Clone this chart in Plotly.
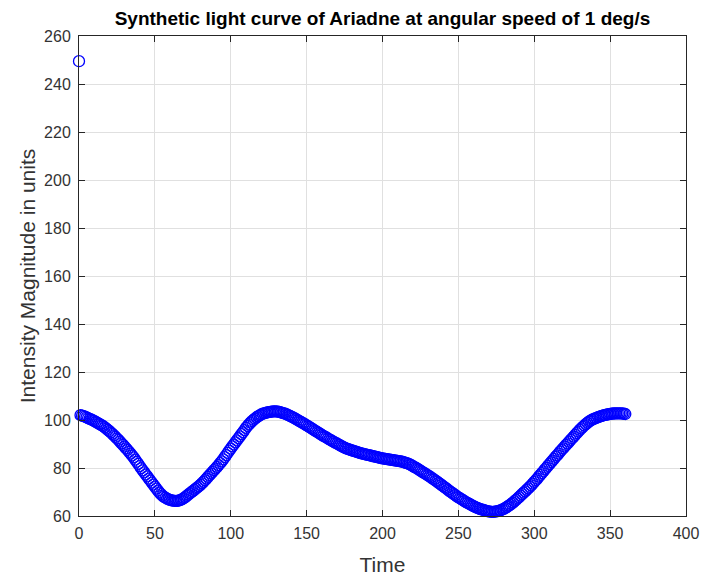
import plotly.graph_objects as go

# Outlier first sample
outlier_time = [0]
outlier_value = [249.5]

# Light-curve samples, one per time unit from 1 to 360
time_values = list(range(1, 361))
intensity_values = [
    102.0, 101.8, 101.6, 101.4, 101.1, 100.8, 100.5, 100.2, 99.9, 99.6,
    99.2, 98.9, 98.5, 98.2, 97.8, 97.4, 96.9, 96.4, 95.9, 95.4,
    94.8, 94.2, 93.6, 93.0, 92.3, 91.7, 91.0, 90.3, 89.6, 88.9,
    88.2, 87.5, 86.7, 86.0, 85.2, 84.4, 83.5, 82.6, 81.7, 80.8,
    79.9, 79.0, 78.2, 77.3, 76.5, 75.6, 74.8, 73.9, 73.1, 72.2,
    71.4, 70.6, 69.8, 69.1, 68.5, 68.0, 67.6, 67.2, 66.9, 66.7,
    66.5, 66.4, 66.3, 66.3, 66.3, 66.5, 66.7, 67.0, 67.4, 67.9,
    68.4, 68.9, 69.4, 69.9, 70.4, 70.9, 71.4, 71.9, 72.4, 73.0,
    73.6, 74.2, 74.9, 75.6, 76.3, 77.0, 77.7, 78.4, 79.1, 79.8,
    80.5, 81.2, 82.0, 82.8, 83.6, 84.5, 85.4, 86.3, 87.2, 88.1,
    89.0, 89.8, 90.7, 91.5, 92.4, 93.2, 94.1, 94.9, 95.8, 96.7,
    97.5, 98.2, 98.9, 99.5, 100.1, 100.6, 101.1, 101.5, 101.9, 102.3,
    102.6, 102.8, 103.0, 103.2, 103.3, 103.4, 103.5, 103.6, 103.6, 103.6,
    103.5, 103.4, 103.2, 103.0, 102.8, 102.6, 102.3, 102.0, 101.7, 101.4,
    101.1, 100.8, 100.4, 100.0, 99.6, 99.3, 98.9, 98.6, 98.2, 97.8,
    97.4, 97.0, 96.6, 96.2, 95.8, 95.4, 95.0, 94.6, 94.2, 93.8,
    93.4, 93.1, 92.7, 92.3, 91.9, 91.6, 91.2, 90.9, 90.5, 90.2,
    89.8, 89.5, 89.1, 88.8, 88.5, 88.2, 88.0, 87.7, 87.5, 87.3,
    87.1, 86.9, 86.7, 86.5, 86.3, 86.1, 86.0, 85.8, 85.7, 85.5,
    85.4, 85.2, 85.0, 84.9, 84.7, 84.6, 84.4, 84.3, 84.1, 84.0,
    83.9, 83.8, 83.7, 83.6, 83.5, 83.4, 83.3, 83.2, 83.1, 83.0,
    82.9, 82.8, 82.6, 82.4, 82.2, 82.0, 81.8, 81.5, 81.2, 80.8,
    80.4, 80.1, 79.7, 79.3, 78.9, 78.5, 78.1, 77.7, 77.3, 76.9,
    76.5, 76.1, 75.6, 75.2, 74.7, 74.3, 73.8, 73.4, 72.9, 72.4,
    71.9, 71.5, 71.0, 70.5, 70.0, 69.6, 69.1, 68.7, 68.2, 67.8,
    67.4, 67.0, 66.6, 66.2, 65.8, 65.5, 65.1, 64.8, 64.4, 64.1,
    63.8, 63.5, 63.3, 63.0, 62.8, 62.6, 62.4, 62.2, 62.0, 61.9,
    61.8, 61.7, 61.7, 61.8, 61.9, 62.0, 62.2, 62.4, 62.7, 63.0,
    63.4, 63.8, 64.2, 64.6, 65.1, 65.6, 66.2, 66.7, 67.3, 67.9,
    68.5, 69.1, 69.7, 70.3, 70.9, 71.5, 72.1, 72.8, 73.5, 74.2,
    74.9, 75.6, 76.4, 77.1, 77.9, 78.6, 79.4, 80.1, 80.9, 81.6,
    82.4, 83.1, 83.8, 84.6, 85.3, 86.0, 86.8, 87.5, 88.2, 88.9,
    89.6, 90.3, 91.0, 91.7, 92.4, 93.1, 93.8, 94.5, 95.2, 95.9,
    96.5, 97.1, 97.7, 98.3, 98.8, 99.3, 99.7, 100.1, 100.4, 100.7,
    100.9, 101.2, 101.4, 101.6, 101.8, 102.0, 102.1, 102.3, 102.4, 102.5,
    102.6, 102.7, 102.7, 102.8, 102.8, 102.8, 102.8, 102.7, 102.6, 102.5,
]

x_ticks = [0, 50, 100, 150, 200, 250, 300, 350, 400]
y_ticks = [60, 80, 100, 120, 140, 160, 180, 200, 220, 240, 260]

title_text = "Synthetic light curve of Ariadne at angular speed of 1 deg/s"
x_label = "Time"
y_label = "Intensity Magnitude in units"

FONT = "Liberation Sans, Arial, Helvetica, sans-serif"
AXIS_COLOR = "#262626"
GRID_COLOR = "#e0e0e0"

marker_style = dict(symbol="circle-open", size=11, color="#0000ff",
                    line=dict(width=1.3, color="#0000ff"))

fig = go.Figure()
fig.add_trace(go.Scatter(x=outlier_time + time_values,
                         y=outlier_value + intensity_values,
                         mode="markers", marker=marker_style,
                         showlegend=False, cliponaxis=False))

axis_common = dict(
    showline=True, linecolor=AXIS_COLOR, linewidth=1, mirror="ticks",
    ticks="inside", ticklen=6, tickcolor=AXIS_COLOR, tickwidth=1,
    showgrid=True, gridcolor=GRID_COLOR, gridwidth=1, zeroline=False,
    automargin=False,
    tickfont=dict(family=FONT, size=16, color="#333333"),
)

fig.update_layout(
    template="none",
    width=702, height=577, autosize=False,
    paper_bgcolor="white", plot_bgcolor="white",
    margin=dict(l=79, r=16, t=36, b=61, pad=0),
    title=dict(text="<b>" + title_text + "</b>", x=0.5, xref="paper",
               xanchor="center", y=1 - 18 / 577, yanchor="middle",
               font=dict(family=FONT, size=19, color="#000000")),
    xaxis=dict(range=[0, 400], tickvals=x_ticks, ticklabelstandoff=3,
               title=dict(text=x_label, standoff=16,
                          font=dict(family=FONT, size=21, color="#333333")),
               **axis_common),
    yaxis=dict(range=[60, 260], tickvals=y_ticks, ticklabelstandoff=4,
               title=dict(text=y_label, standoff=2,
                          font=dict(family=FONT, size=21, color="#333333")),
               **axis_common),
)

fig.write_html("out.html")
